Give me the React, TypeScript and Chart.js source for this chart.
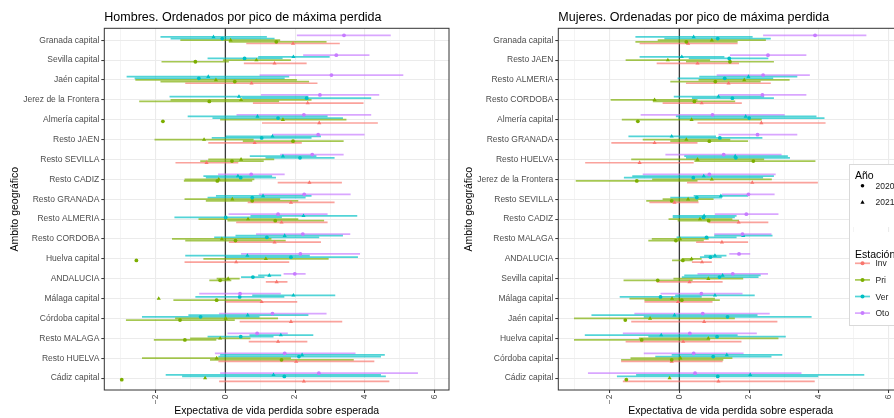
import React, { useEffect, useRef } from "react";
import { Chart, registerables } from "chart.js";

Chart.register(...registerables);

// [estimate, lower, upper]; null bounds = no interval drawn
type Est = [number, number | null, number | null];

const FONT = '"Liberation Sans", Arial, Helvetica, sans-serif';
const X_TITLE = "Expectativa de vida perdida sobre esperada";
const Y_TITLE = "Ambito geográfico";
const X_MIN = -3.47;
const X_MAX = 6.41;
const X_TICKS = [-3, -2, -1, 0, 1, 2, 3, 4, 5, 6];

const SEASON_COLORS: Record<string, string> = {
  Inv: "#F8766D",
  Pri: "#7CAE00",
  Ver: "#00BFC4",
  Oto: "#C77CFF",
};
const SEASONS = ["Inv", "Pri", "Ver", "Oto"];

// ---------- Hombres ----------
const hombresCats = [
  "Granada capital", "Sevilla capital", "Jaén capital", "Jerez de la Frontera",
  "Almería capital", "Resto JAEN", "Resto SEVILLA", "Resto CADIZ", "Resto GRANADA",
  "Resto ALMERIA", "Resto CORDOBA", "Huelva capital", "ANDALUCIA", "Málaga capital",
  "Córdoba capital", "Resto MALAGA", "Resto HUELVA", "Cádiz capital",
];

const hOto2020: Est[] = [
  [3.40, 2.05, 4.74], [3.18, 2.23, 4.13], [3.04, 0.98, 5.10], [2.71, 1.02, 4.41],
  [2.25, 0.32, 4.18], [2.66, 1.34, 3.99], [2.49, 1.57, 3.39], [0.74, -0.21, 1.70],
  [2.26, 0.96, 3.59], [1.51, 0.09, 2.93], [2.22, 0.88, 3.58], [2.15, 0.45, 3.86],
  [1.99, 1.67, 2.30], [0.42, -0.75, 1.59], [1.35, -0.18, 2.90], [0.91, 0.06, 1.79],
  [1.70, -0.30, 3.73], [2.68, -0.15, 5.52],
];
const hVer2021: Est[] = [
  [-0.34, -1.86, 1.19], [1.95, 0.94, 2.99], [-0.49, -2.83, 1.83], [0.39, -1.60, 2.38],
  [0.92, -1.08, 2.93], [1.35, 0.01, 2.74], [1.65, 0.70, 2.61], [0.36, -0.63, 1.34],
  [1.08, -0.27, 2.47], [2.24, 0.72, 3.78], [1.70, 0.29, 3.37], [0.63, -1.15, 2.42],
  [1.26, 0.94, 1.60], [1.95, 0.77, 3.15], [0.64, -1.06, 2.38], [1.59, 0.69, 2.52],
  [2.20, -0.15, 4.57], [1.38, -1.71, 4.46],
];
const hVer2020: Est[] = [
  [-0.09, -1.57, 1.41], [0.55, -0.51, 1.64], [-0.76, -2.60, 1.70], [2.33, 0.48, 4.18],
  [1.51, -0.37, 3.37], [1.04, -0.39, 2.47], [2.14, 1.15, 3.13], [0.44, -0.56, 1.45],
  [0.77, -0.51, 2.30], [0.01, -1.46, 1.62], [1.19, -0.32, 2.69], [1.88, 0.01, 3.80],
  [0.79, 0.45, 1.12], [0.41, -0.86, 1.69], [-0.71, -2.39, 0.98], [0.44, -0.51, 1.38],
  [2.11, -0.20, 4.46], [1.69, -1.24, 4.60],
];
const hPri2021: Est[] = [
  [0.15, -1.29, 1.57], [0.89, -0.07, 1.88], [-0.27, -2.58, 2.05], [0.45, -1.57, 2.47],
  [1.65, -0.15, 3.47], [-0.61, -2.03, 0.81], [0.45, -0.49, 1.40], [-0.19, -1.17, 0.83],
  [0.20, -1.17, 1.57], [0.65, -0.77, 2.09], [-0.10, -1.53, 1.32], [1.16, -0.63, 2.96],
  [0.08, -0.25, 0.41], [-1.91, null, null], [0.01, -1.44, 1.51], [-0.15, -1.01, 0.72],
  [-0.25, -2.39, 1.88], [-0.58, null, null],
];
const hPri2020: Est[] = [
  [1.46, 0.10, 2.90], [-0.86, -1.83, 0.10], [0.27, -1.86, 2.40], [-0.46, -2.47, 1.54],
  [-1.79, null, null], [1.94, 0.50, 3.39], [0.19, -0.72, 1.10], [-0.23, -1.19, 0.77],
  [0.77, -0.56, 2.09], [1.43, 0.06, 2.83], [0.29, -1.15, 1.73], [-2.55, null, null],
  [-0.15, -0.46, 0.17], [-0.25, -1.49, 1.02], [-1.30, -2.85, 0.27], [-1.16, -2.05, -0.26],
  [1.61, -0.44, 3.68], [-2.97, null, null],
];
const hInv2021: Est[] = [
  [1.94, 0.60, 3.28], [1.41, 0.53, 2.33], [0.75, -1.15, 2.64], [2.36, 0.79, 3.96],
  [2.69, 1.05, 4.37], [0.84, -0.49, 2.19], [-0.54, -1.43, 0.37], [2.41, 1.50, 3.34],
  [1.88, 0.64, 3.13], [1.61, 0.31, 2.93], [1.41, 0.10, 2.74], [0.31, -1.17, 1.83],
  [1.47, 1.16, 1.78], [1.04, 0.01, 2.06], [1.88, 0.41, 3.35], [1.51, 0.67, 2.35],
  [2.03, -0.20, 4.27], [2.25, -0.18, 4.70],
];

// ---------- Mujeres ----------
const mujeresCats = [
  "Granada capital", "Resto JAEN", "Resto ALMERIA", "Resto CORDOBA", "Almería capital",
  "Resto GRANADA", "Resto HUELVA", "Jerez de la Frontera", "Resto SEVILLA", "Resto CADIZ",
  "Resto MALAGA", "ANDALUCIA", "Sevilla capital", "Málaga capital", "Jaén capital",
  "Huelva capital", "Córdoba capital", "Cádiz capital",
];

const mOto2020: Est[] = [
  [3.89, 2.40, 5.36], [2.54, 1.45, 3.64], [2.40, 1.07, 3.74], [2.38, 1.12, 3.64],
  [0.95, -1.11, 3.02], [2.24, 1.12, 3.38], [1.27, -0.40, 2.93], [0.86, -1.05, 2.76],
  [1.98, 1.22, 2.73], [1.92, 1.02, 2.84], [1.81, 1.00, 2.64], [1.71, 1.43, 2.03],
  [1.53, 0.52, 2.54], [0.63, -0.54, 1.81], [0.67, -1.29, 2.59], [0.30, -1.62, 2.22],
  [0.41, -1.02, 1.84], [0.45, -2.62, 3.50],
];
const mVer2021: Est[] = [
  [0.41, -1.26, 2.10], [0.07, -1.14, 1.29], [1.98, 0.57, 3.38], [1.12, -0.16, 2.43],
  [1.90, -0.10, 3.93], [-0.22, -1.46, 1.05], [1.60, 0.14, 3.11], [0.70, -1.35, 2.71],
  [1.19, 0.41, 1.97], [0.71, -0.19, 1.64], [1.83, 1.00, 2.67], [1.02, 0.71, 1.35],
  [1.24, 0.14, 2.33], [1.02, -0.12, 2.16], [-0.14, -2.52, 2.24], [-0.52, -2.71, 1.67],
  [1.36, -0.22, 2.95], [2.03, -1.24, 5.30],
];
const mVer2020: Est[] = [
  [1.10, -0.43, 2.62], [1.43, 0.27, 2.55], [1.30, -0.05, 2.69], [1.52, 0.36, 2.71],
  [2.00, -0.03, 4.16], [1.16, 0.00, 2.38], [1.62, 0.19, 3.17], [0.40, -1.59, 2.40],
  [0.50, -0.26, 1.22], [0.69, -0.19, 1.59], [0.78, -0.08, 1.64], [0.89, 0.59, 1.21],
  [1.15, 0.07, 2.27], [-0.54, -1.71, 0.64], [1.38, -1.02, 3.79], [1.08, -0.89, 3.05],
  [0.97, -0.69, 2.64], [1.10, -1.79, 3.98],
];
const mPri2021: Est[] = [
  [0.93, -0.62, 2.48], [-0.33, -1.54, 0.88], [1.86, 0.55, 3.16], [-0.71, -1.97, 0.52],
  [0.35, -1.65, 2.36], [0.20, -1.05, 1.46], [0.52, -1.38, 2.43], [0.93, -0.78, 2.65],
  [0.25, -0.48, 0.98], [0.59, -0.31, 1.52], [0.02, -0.79, 0.84], [0.35, 0.07, 0.64],
  [0.83, -0.17, 1.83], [-0.21, -1.43, 1.02], [-0.84, -3.02, 1.59], [0.83, -1.16, 2.84],
  [0.03, -1.40, 1.52], [-0.28, null, null],
];
const mPri2020: Est[] = [
  [0.20, -1.26, 1.67], [1.45, 0.19, 2.71], [1.03, -0.26, 2.33], [0.43, -0.76, 1.60],
  [-1.19, null, null], [0.86, -0.26, 1.97], [2.12, 0.43, 3.90], [-1.22, -2.97, 0.52],
  [-0.22, -0.95, 0.54], [0.84, -0.05, 1.71], [-0.10, -0.89, 0.70], [0.10, -0.21, 0.38],
  [-0.62, -1.60, 0.38], [0.07, -1.00, 1.16], [-1.55, null, null], [-1.08, -3.02, 0.88],
  [-0.22, -1.67, 1.26], [-1.52, null, null],
];
const mInv2021: Est[] = [
  [0.25, -1.14, 1.67], [0.52, -0.65, 1.71], [1.41, 0.19, 2.62], [0.64, -0.48, 1.79],
  [2.35, 0.52, 4.19], [-0.71, -1.95, 0.52], [-1.14, -2.70, 0.41], [2.09, 0.22, 3.97],
  [-0.14, -0.86, 0.55], [1.70, 0.84, 2.55], [1.22, 0.48, 1.97], [0.65, 0.36, 0.93],
  [0.29, -0.65, 1.24], [-0.04, -1.00, 0.95], [0.71, -1.38, 2.81], [0.11, -1.54, 1.78],
  [-0.22, -1.67, 1.24], [1.12, -1.62, 3.88],
];

// series drawn in each panel; slot = vertical dodge position within a category
const SERIES_DEFS = [
  { key: "Oto2020", season: "Oto", year: 2020, slot: -3 },
  { key: "Ver2021", season: "Ver", year: 2021, slot: -2 },
  { key: "Ver2020", season: "Ver", year: 2020, slot: -1 },
  { key: "Pri2021", season: "Pri", year: 2021, slot: 0 },
  { key: "Pri2020", season: "Pri", year: 2020, slot: 1 },
  { key: "Inv2021", season: "Inv", year: 2021, slot: 2 },
];
const DODGE = 0.082;

const hombresSeries: Record<string, Est[]> = {
  Oto2020: hOto2020, Ver2021: hVer2021, Ver2020: hVer2020,
  Pri2021: hPri2021, Pri2020: hPri2020, Inv2021: hInv2021,
};
const mujeresSeries: Record<string, Est[]> = {
  Oto2020: mOto2020, Ver2021: mVer2021, Ver2020: mVer2020,
  Pri2021: mPri2021, Pri2020: mPri2020, Inv2021: mInv2021,
};

function withAlpha(hex: string, a: number) {
  const n = parseInt(hex.slice(1), 16);
  return `rgba(${(n >> 16) & 255},${(n >> 8) & 255},${n & 255},${a})`;
}

function panelDecor(title: string) {
  return {
    id: "panelDecor",
    beforeDatasetsDraw(chart: any) {
      const { ctx, chartArea: a, scales } = chart;
      const xs = scales.x;
      const ys = scales.y;
      ctx.save();
      ctx.beginPath();
      ctx.rect(a.left, a.top, a.right - a.left, a.bottom - a.top);
      ctx.clip();
      // reference line at zero
      const x0 = xs.getPixelForValue(0);
      ctx.strokeStyle = "#3a3a3a";
      ctx.lineWidth = 1.3;
      ctx.beginPath();
      ctx.moveTo(x0, a.top);
      ctx.lineTo(x0, a.bottom);
      ctx.stroke();
      // horizontal intervals
      ctx.lineCap = "butt";
      ctx.lineWidth = 1.7;
      chart.data.datasets.forEach((ds: any) => {
        ctx.strokeStyle = ds.intervalColor;
        ds.data.forEach((p: any) => {
          if (p.lo == null || p.hi == null) return;
          const py = ys.getPixelForValue(p.y);
          ctx.beginPath();
          ctx.moveTo(xs.getPixelForValue(p.lo), py);
          ctx.lineTo(xs.getPixelForValue(p.hi), py);
          ctx.stroke();
        });
      });
      ctx.restore();
    },
    afterDraw(chart: any) {
      const { ctx, chartArea: a } = chart;
      ctx.save();
      ctx.strokeStyle = "#333333";
      ctx.lineWidth = 1;
      ctx.strokeRect(a.left, a.top, a.right - a.left, a.bottom - a.top);
      ctx.fillStyle = "#000";
      ctx.textBaseline = "alphabetic";
      ctx.textAlign = "left";
      ctx.font = `12.5px ${FONT}`;
      ctx.fillText(title, a.left, 20.7);
      ctx.font = `10.5px ${FONT}`;
      ctx.textAlign = "center";
      ctx.fillText(X_TITLE, (a.left + a.right) / 2, 414);
      ctx.translate(17.5, (a.top + a.bottom) / 2);
      ctx.rotate(-Math.PI / 2);
      ctx.fillText(Y_TITLE, 0, 0);
      ctx.restore();
    },
  };
}

function Panel(props: {
  title: string;
  cats: string[];
  series: Record<string, Est[]>;
  left: number;
}) {
  const ref = useRef<HTMLCanvasElement | null>(null);
  const { title, cats, series, left } = props;

  useEffect(() => {
    if (!ref.current) return;
    const datasets = SERIES_DEFS.map((d) => {
      const color = SEASON_COLORS[d.season];
      return {
        label: `${d.season} ${d.year}`,
        data: series[d.key].map((e, i) => ({
          x: e[0],
          y: i + 1 + d.slot * DODGE,
          lo: e[1],
          hi: e[2],
        })),
        intervalColor: withAlpha(color, 0.68),
        backgroundColor: color,
        borderColor: color,
        borderWidth: 0,
        pointStyle: d.year === 2020 ? "circle" : "triangle",
        pointRadius: d.year === 2020 ? 1.9 : 2.4,
        showLine: false,
      };
    });

    const chart = new Chart(ref.current, {
      type: "scatter",
      data: { datasets: datasets as any },
      options: {
        animation: false,
        responsive: false,
        maintainAspectRatio: false,
        devicePixelRatio: 1,
        events: [],
        layout: { padding: { top: 28.3, left: 0, right: 1, bottom: 0 } },
        plugins: {
          legend: { display: false },
          tooltip: { enabled: false },
          title: { display: false },
        },
        scales: {
          x: {
            type: "linear",
            min: X_MIN,
            max: X_MAX,
            afterBuildTicks: (s: any) => {
              s.ticks = X_TICKS.map((v) => ({ value: v }));
            },
            afterFit: (s: any) => {
              s.height = 28;
            },
            ticks: {
              autoSkip: false,
              minRotation: 90,
              maxRotation: 90,
              padding: 1.5,
              color: "#4D4D4D",
              font: { family: FONT, size: 8.5 },
              callback: (v: any) =>
                Number(v) % 2 === 0 ? String(v).replace("-", "\u2212") : "",
            },
            grid: {
              color: "#EBEBEB",
              lineWidth: (c: any) =>
                c.tick && Math.abs(c.tick.value) % 2 === 0 ? 1.1 : 0.55,
              tickLength: 3,
              tickWidth: 1,
              tickColor: (c: any) =>
                c.tick && Math.abs(c.tick.value) % 2 === 0 ? "#333333" : "rgba(0,0,0,0)",
            },
            border: { display: false },
          },
          y: {
            type: "linear",
            reverse: true,
            min: 0.4,
            max: cats.length + 0.6,
            afterBuildTicks: (s: any) => {
              s.ticks = cats.map((_, i) => ({ value: i + 1 }));
            },
            afterFit: (s: any) => {
              s.width = 104.3;
            },
            ticks: {
              autoSkip: false,
              padding: 2,
              color: "#4D4D4D",
              font: { family: FONT, size: 8.5 },
              callback: (v: any) => cats[Math.round(Number(v)) - 1] ?? "",
            },
            grid: {
              color: "#EBEBEB",
              lineWidth: 1.1,
              tickLength: 3,
              tickWidth: 1,
              tickColor: "#333333",
            },
            border: { display: false },
          },
        },
      } as any,
      plugins: [panelDecor(title)],
    });
    return () => chart.destroy();
  }, [title, cats, series]);

  return (
    <canvas
      ref={ref}
      width={453}
      height={418}
      style={{ position: "absolute", left, top: 0, width: 453, height: 418 }}
    />
  );
}

function Legend() {
  const tri = (cx: number, cy: number, r: number) =>
    `${cx},${cy - r} ${cx + r * 0.866},${cy + r * 0.5} ${cx - r * 0.866},${cy + r * 0.5}`;
  return (
    <svg
      width={894}
      height={418}
      style={{ position: "absolute", left: 0, top: 0, pointerEvents: "none" }}
      fontFamily={FONT}
    >
      <rect x={849.5} y={164.5} width={60} height={161} fill="none" stroke="#D9D9D9" />
      <rect x={850} y={165} width={60} height={62} fill="#FFFFFF" />
      <rect x={850} y={232} width={60} height={93} fill="#FFFFFF" />
      <text x={855} y={179.3} fontSize={10.5} fill="#000">Año</text>
      <circle cx={862.5} cy={185.7} r={1.8} fill="#000" />
      <text x={875.5} y={189} fontSize={8.5} fill="#1A1A1A">2020</text>
      <polygon points={tri(862.5, 202.5, 2.4)} fill="#000" />
      <text x={875.5} y={205.3} fontSize={8.5} fill="#1A1A1A">2021</text>
      <text x={855} y={257.5} fontSize={10.5} fill="#000">Estación</text>
      {SEASONS.map((s, i) => {
        const y = 263.3 + i * 16.6;
        return (
          <g key={s}>
            <line x1={855} x2={870} y1={y} y2={y} stroke={withAlpha(SEASON_COLORS[s], 0.68)} strokeWidth={1.7} />
            <circle cx={862.5} cy={y} r={2} fill={SEASON_COLORS[s]} />
            <text x={875.5} y={y + 3} fontSize={8.5} fill="#1A1A1A">{s}</text>
          </g>
        );
      })}
    </svg>
  );
}

export default function App() {
  return (
    <div
      style={{
        position: "fixed",
        left: 0,
        top: 0,
        width: 894,
        height: 418,
        overflow: "hidden",
        background: "#FFFFFF",
      }}
    >
      <Panel
        title="Hombres. Ordenados por pico de máxima perdida"
        cats={hombresCats}
        series={hombresSeries}
        left={0}
      />
      <Panel
        title="Mujeres. Ordenadas por pico de máxima perdida"
        cats={mujeresCats}
        series={mujeresSeries}
        left={454}
      />
      <Legend />
    </div>
  );
}
